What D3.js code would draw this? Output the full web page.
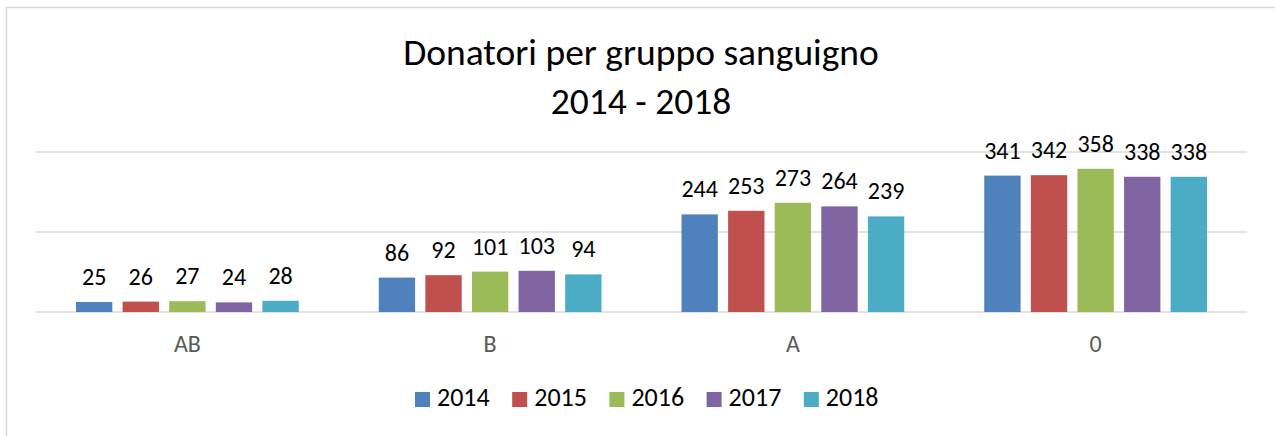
<!DOCTYPE html>
<html>
<head>
<meta charset="utf-8">
<script src="https://cdn.jsdelivr.net/npm/d3@7"></script>
<style>
    html, body { margin: 0; padding: 0; background: #fff; }
    svg { display: block; font-family: Carlito, Lato, "Open Sans", sans-serif; }
</style>
</head>
<body>
<div id="chart"></div>
<script>
// Chart data
const groups = ["AB", "B", "A", "0"];
const years = ["2014", "2015", "2016", "2017", "2018"];
const values2014 = [25, 86, 244, 341];
const values2015 = [26, 92, 253, 342];
const values2016 = [27, 101, 273, 358];
const values2017 = [24, 103, 264, 338];
const values2018 = [28, 94, 239, 338];
const yTicks = [0, 200, 400];
const titleLines = ["Donatori per gruppo sanguigno", "2014 - 2018"];

const seriesValues = [values2014, values2015, values2016, values2017, values2018];
const colors = ["#4f81bd", "#c0504d", "#9bbb59", "#8064a2", "#4bacc6"];

const width = 1275, height = 436;
const margin = { top: 152, right: 28, bottom: 124, left: 36 };

const svg = d3.select("#chart")
    .append("svg")
    .attr("width", width)
    .attr("height", height);

// Chart frame (only top and left edges fall inside the picture)
svg.append("rect")
    .attr("x", 6.5)
    .attr("y", 7.5)
    .attr("width", width + 20)
    .attr("height", height + 20)
    .attr("fill", "none")
    .attr("stroke", "#d9d9d9")
    .attr("stroke-width", 1.5);

// Title
svg.append("text")
    .attr("text-anchor", "middle")
    .style("font-size", "37.5px")
    .attr("fill", "#000")
    .selectAll("tspan")
    .data(titleLines)
    .enter()
    .append("tspan")
    .attr("x", 641)
    .attr("y", (d, i) => 65 + i * 49)
    .text(d => d);

const x0 = d3.scaleBand()
    .domain(groups)
    .range([margin.left, width - margin.right]);

const x1 = d3.scaleBand()
    .domain(years)
    .range([40, x0.bandwidth() - 40])
    .paddingInner(0.22);

const y = d3.scaleLinear()
    .domain([0, 400])
    .range([height - margin.bottom, margin.top]);

// Gridlines
svg.append("g")
    .selectAll("line")
    .data(yTicks)
    .enter()
    .append("line")
    .attr("x1", margin.left)
    .attr("x2", width - margin.right)
    .attr("y1", d => y(d))
    .attr("y2", d => y(d))
    .attr("stroke", "#d9d9d9")
    .attr("stroke-width", 1.5);

// Bars
const rows = groups.map((g, gi) => ({
    group: g,
    items: years.map((yr, si) => ({ year: yr, si: si, value: seriesValues[si][gi] }))
}));

const groupSel = svg.selectAll("g.group")
    .data(rows)
    .enter()
    .append("g")
    .attr("class", "group")
    .attr("transform", d => `translate(${x0(d.group)},0)`);

groupSel.selectAll("rect")
    .data(d => d.items)
    .enter()
    .append("rect")
    .attr("x", d => x1(d.year))
    .attr("y", d => y(d.value))
    .attr("width", x1.bandwidth())
    .attr("height", d => y(0) - y(d.value))
    .attr("fill", d => colors[d.si]);

// Value labels
groupSel.selectAll("text")
    .data(d => d.items)
    .enter()
    .append("text")
    .attr("x", d => x1(d.year) + x1.bandwidth() / 2)
    .attr("y", d => y(d.value) - 17)
    .attr("text-anchor", "middle")
    .style("font-size", "24px")
    .attr("fill", "#000")
    .text(d => d.value);

// Category labels
svg.append("g")
    .selectAll("text")
    .data(groups)
    .enter()
    .append("text")
    .attr("x", d => x0(d) + x0.bandwidth() / 2)
    .attr("y", y(0) + 40)
    .attr("text-anchor", "middle")
    .style("font-size", "24px")
    .attr("fill", "#595959")
    .text(d => d);

// Legend
const legend = svg.append("g").attr("class", "legend");
const legendItems = legend.selectAll("g")
    .data(years)
    .enter()
    .append("g")
    .attr("transform", (d, i) => `translate(${415 + i * 97.2},0)`);

legendItems.append("rect")
    .attr("x", 0)
    .attr("y", 392)
    .attr("width", 15)
    .attr("height", 15)
    .attr("fill", (d, i) => colors[i]);

legendItems.append("text")
    .attr("x", 22)
    .attr("y", 406)
    .style("font-size", "26px")
    .attr("fill", "#000")
    .text(d => d);
</script>
</body>
</html>
